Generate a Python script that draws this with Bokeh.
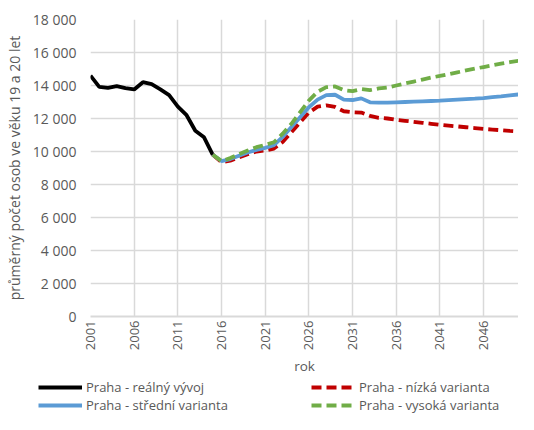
import math
from bokeh.plotting import figure
from bokeh.models import FixedTicker, Legend, LegendItem, Range1d
from bokeh.embed import file_html
from bokeh.resources import INLINE

years_real = list(range(2001, 2016))
real = [14600, 13920, 13860, 13960, 13840, 13760, 14200, 14080, 13760, 13420,
        12720, 12200, 11260, 10860, 9800]

years_proj = list(range(2015, 2051))
low = [9800, 9360, 9440, 9640, 9840, 10000, 10060, 10180, 10580, 11160,
       11760, 12360, 12720, 12800, 12700, 12440, 12380, 12360, 12160, 12040,
       12000, 11920, 11860, 11800, 11740, 11680, 11620, 11570, 11520, 11470,
       11420, 11370, 11330, 11290, 11250, 11220]
mid = [9800, 9420, 9540, 9740, 9940, 10100, 10220, 10380, 10880, 11480,
       12080, 12680, 13140, 13420, 13440, 13140, 13120, 13220, 12980, 12960,
       12960, 12980, 13000, 13020, 13040, 13060, 13080, 13110, 13140, 13170,
       13200, 13240, 13290, 13340, 13400, 13460]
high = [9800, 9420, 9600, 9840, 10060, 10260, 10400, 10560, 11080, 11680,
        12380, 13080, 13620, 13900, 13940, 13720, 13660, 13780, 13720, 13820,
        13880, 14000, 14120, 14240, 14360, 14480, 14580, 14690, 14800, 14910,
        15020, 15120, 15220, 15320, 15410, 15500]

x_ticks = [2001, 2006, 2011, 2016, 2021, 2026, 2031, 2036, 2041, 2046]
y_ticks = [0, 2000, 4000, 6000, 8000, 10000, 12000, 14000, 16000, 18000]
y_tick_labels = ["0", "2 000", "4 000", "6 000", "8 000", "10 000", "12 000",
                 "14 000", "16 000", "18 000"]

labels = ["Praha - reálný vývoj", "Praha - nízká varianta",
          "Praha - střední varianta", "Praha - vysoká varianta"]

FONT = "Open Sans"
TXT = "#595959"
GRID = "#d9d9d9"
LW = 3.8
styles = [dict(line_color="black", line_width=LW),
          dict(line_color="#C00000", line_width=LW, line_dash="10 5"),
          dict(line_color="#5B9BD5", line_width=LW),
          dict(line_color="#70AD47", line_width=LW, line_dash="10 5")]

p = figure(width=518, height=378, output_backend="svg", toolbar_location=None,
           x_range=Range1d(2001, 2050), y_range=Range1d(0, 18000),
           min_border_left=90, min_border_right=0, min_border_top=19,
           min_border_bottom=58)
p.outline_line_color = None
p.background_fill_color = "white"
p.border_fill_color = "white"

p.line(years_real, real, **styles[0])
p.line(years_proj, low, **styles[1])
p.line(years_proj, mid, **styles[2])
p.line(years_proj, high, **styles[3])

# axes
p.xaxis.ticker = FixedTicker(ticks=x_ticks)
p.yaxis.ticker = FixedTicker(ticks=y_ticks)
p.yaxis.major_label_overrides = {t: l for t, l in zip(y_ticks, y_tick_labels)}
p.xaxis.major_label_orientation = math.pi / 2
p.xaxis.axis_label = "rok"
p.yaxis.axis_label = "průměrný počet osob ve věku 19 a 20 let"

for ax in (p.xaxis, p.yaxis):
    ax.major_tick_line_color = None
    ax.minor_tick_line_color = None
    ax.major_tick_out = 0
    ax.major_tick_in = 0
    ax.major_label_text_font = FONT
    ax.major_label_text_color = TXT
    ax.axis_label_text_font = FONT
    ax.axis_label_text_color = TXT
    ax.axis_label_text_font_style = "normal"
p.yaxis.axis_label_text_font_size = "14px"
p.xaxis.axis_label_text_font_size = "13.5px"
p.yaxis.major_label_text_font_size = "14px"
p.xaxis.major_label_text_font_size = "13px"
p.yaxis.axis_line_color = None
p.xaxis.axis_line_color = GRID
p.xaxis.axis_line_width = 2
p.yaxis.major_label_standoff = 14
p.xaxis.major_label_standoff = 4
p.xaxis.axis_label_standoff = 4
p.yaxis.axis_label_standoff = 6

p.xgrid.ticker = FixedTicker(ticks=x_ticks)
p.ygrid.ticker = FixedTicker(ticks=y_ticks)
p.grid.grid_line_color = GRID
p.grid.grid_line_width = 1.5

# legend strip (separate root, so its frame starts at the page margin)
lf = figure(width=518, height=36, output_backend="svg", toolbar_location=None,
            x_range=Range1d(0, 1), y_range=Range1d(0, 1),
            x_axis_type=None, y_axis_type=None,
            min_border_left=0, min_border_right=0, min_border_top=0,
            min_border_bottom=0)
lf.outline_line_color = None
lf.grid.visible = False
lr = [lf.line([-5, -4], [-5, -4], **s) for s in styles]

legend = Legend(items=[LegendItem(label=l, renderers=[r]) for l, r in zip(labels, lr)],
                location=(38, 0), orientation="horizontal", ncols=2,
                label_text_font=FONT, label_text_font_size="13px",
                label_text_color=TXT, glyph_width=44, glyph_height=18,
                label_height=18, label_width=225, label_standoff=4,
                spacing=0, padding=0, margin=0,
                border_line_color=None, background_fill_alpha=0)
lf.add_layout(legend, "center")

open("out.html", "w").write(file_html([p, lf], INLINE))
